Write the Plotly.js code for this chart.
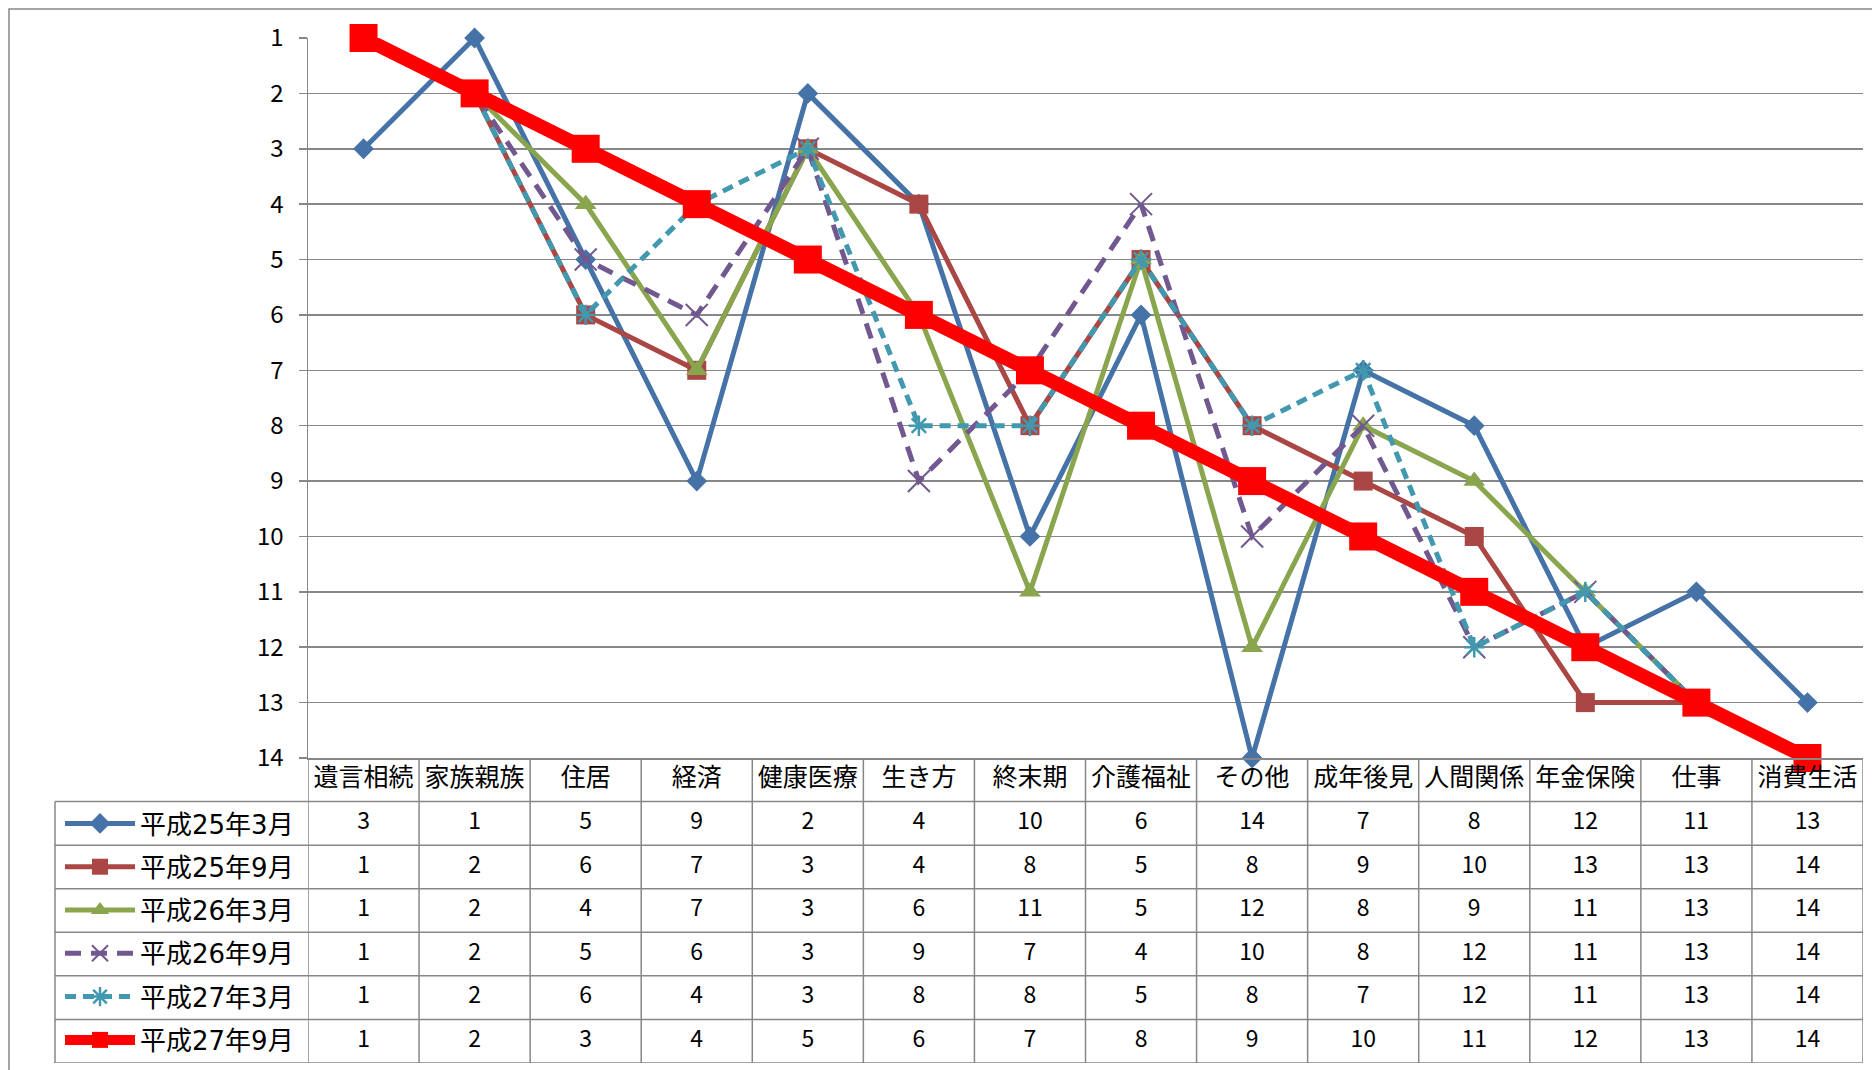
<!DOCTYPE html>
<html>
<head>
<meta charset="utf-8">
<script src="https://cdn.plot.ly/plotly-3.0.1.min.js"></script>
<style>html,body{margin:0;padding:0;background:#fff;}#chart{width:1872px;height:1070px;}</style>
</head>
<body>
<div id="chart"></div>
<script>
// ---- data ----
const categories = ["遺言相続","家族親族","住居","経済","健康医療","生き方","終末期","介護福祉","その他","成年後見","人間関係","年金保険","仕事","消費生活"];
const seriesNames = ["平成25年3月","平成25年9月","平成26年3月","平成26年9月","平成27年3月","平成27年9月"];
const h25_3 = [3,1,5,9,2,4,10,6,14,7,8,12,11,13];
const h25_9 = [1,2,6,7,3,4,8,5,8,9,10,13,13,14];
const h26_3 = [1,2,4,7,3,6,11,5,12,8,9,11,13,14];
const h26_9 = [1,2,5,6,3,9,7,4,10,8,12,11,13,14];
const h27_3 = [1,2,6,4,3,8,8,5,8,7,12,11,13,14];
const h27_9 = [1,2,3,4,5,6,7,8,9,10,11,12,13,14];
const rankTicks = [1,2,3,4,5,6,7,8,9,10,11,12,13,14];

// ---- styles ----
const W = 1872, H = 1070;
const FONT = "Noto Sans CJK JP, Noto Sans, sans-serif";
const LEGFONT = "DejaVu Sans, Noto Sans CJK JP, sans-serif";
const GRID = "#878787";
const styles = [
  {color:"#4572A7", width:5,  dash:"solid", symbol:"diamond", size:16, lw:0},
  {color:"#AA4643", width:5,  dash:"solid", symbol:"square", size:19, lw:0},
  {color:"#89A54E", width:5,  dash:"solid", symbol:"triangle-up", size:19, lw:0},
  {color:"#71588F", width:5,  dash:"16px,10px", symbol:"x-thin-open", size:22, lw:2},
  {color:"#4198AF", width:5,  dash:"11px,7px", symbol:"asterisk-open", size:17, lw:2.5},
  {color:"#FF0000", width:14, dash:"solid", symbol:"square", size:28, lw:0}
];
const allSeries = [h25_3,h25_9,h26_3,h26_9,h27_3,h27_9];

const px = v => v / W;
const py = v => 1 - v / H;

const traces = allSeries.map((vals, i) => {
  const s = styles[i];
  return {
    type: "scatter", mode: "lines+markers",
    x: categories, y: vals, name: seriesNames[i],
    legendgroup: "g" + i,
    xaxis: "x", yaxis: "y",
    cliponaxis: false,
    line: {color: s.color, width: s.width, dash: s.dash},
    marker: {symbol: s.symbol, size: s.size, color: s.color, line: {color: s.color, width: s.lw}},
    hoverinfo: "x+y+name"
  };
});

// data table texts (header + value rows), drawn on the table axis
const headFont = {family: FONT, size: 25, color: "#000"};
const cellFont = {family: FONT, size: 23, color: "#000"};
traces.push({
  type: "scatter", mode: "text", x: categories, y: categories.map(() => 0),
  text: categories, textfont: headFont, xaxis: "x", yaxis: "y2",
  cliponaxis: false, showlegend: false, hoverinfo: "skip"
});
allSeries.forEach((vals, i) => {
  traces.push({
    type: "scatter", mode: "text", x: categories, y: vals.map(() => i + 1),
    text: vals.map(String), textfont: cellFont, xaxis: "x", yaxis: "y2",
    cliponaxis: false, showlegend: false, hoverinfo: "skip"
  });
});

// table grid shapes
const shapes = [];
const lineStyle = {color: GRID, width: 1.5};
shapes.push({type: "rect", xref: "paper", yref: "paper", x0: px(9), x1: 1.02, y0: -0.02, y1: py(9), line: {color: GRID, width: 1.5}, layer: "below"});
shapes.push({type: "line", xref: "x", yref: "y2", x0: -0.5, x1: categories.length - 0.5, y0: -0.5, y1: -0.5, line: lineStyle, layer: "below"});
for (let k = 1; k <= seriesNames.length + 1; k++) {
  shapes.push({type: "line", xref: "paper", yref: "y2", x0: px(55), x1: px(1863), y0: k - 0.5, y1: k - 0.5, line: lineStyle, layer: "below"});
}
for (let i = 0; i <= categories.length; i++) {
  shapes.push({type: "line", xref: "x", yref: "y2", x0: i - 0.5, x1: i - 0.5, y0: -0.5, y1: seriesNames.length + 0.5, line: lineStyle, layer: "below"});
}
shapes.push({type: "line", xref: "paper", yref: "y2", x0: px(55), x1: px(55), y0: 0.5, y1: seriesNames.length + 0.5, line: lineStyle, layer: "below"});

const layout = {
  width: W, height: H,
  margin: {l: 0, r: 0, t: 0, b: 0},
  paper_bgcolor: "#fff", plot_bgcolor: "rgba(0,0,0,0)",
  showlegend: true,
  font: {family: FONT, color: "#000", size: 23},
  xaxis: {
    domain: [px(308), px(1863)], type: "category", categoryarray: categories, categoryorder: "array",
    range: [-0.5, categories.length - 0.5],
    showticklabels: false, ticks: "", showgrid: false, zeroline: false,
    showline: true, linecolor: GRID, linewidth: 1.5, anchor: "y", fixedrange: true
  },
  yaxis: {
    domain: [py(758), py(38)], range: [14, 1], autorange: false,
    tickmode: "array", tickvals: rankTicks, ticktext: rankTicks.map(String),
    ticks: "outside", ticklen: 8, tickcolor: GRID, tickwidth: 1.5,
    showline: true, linecolor: GRID, linewidth: 1.5,
    showgrid: true, gridcolor: GRID, gridwidth: 1.5, zeroline: false,
    tickfont: {family: FONT, size: 24, color: "#000"}, ticklabelstandoff: 10,
    anchor: "x", fixedrange: true
  },
  yaxis2: {
    domain: [py(1063), py(758)], range: [seriesNames.length + 0.5, -0.5], autorange: false,
    visible: false, anchor: "x", fixedrange: true
  },
  legend: {
    x: px(60), y: py(800), xanchor: "left", yanchor: "top",
    font: {family: LEGFONT, size: 26, color: "#000"},
    bgcolor: "rgba(0,0,0,0)", borderwidth: 0,
    traceorder: "grouped", tracegroupgap: 6.5, itemwidth: 70,
    itemclick: false, itemdoubleclick: false
  },
  shapes: shapes
};

Plotly.newPlot("chart", traces, layout, {displayModeBar: false, staticPlot: true});
</script>
</body>
</html>
